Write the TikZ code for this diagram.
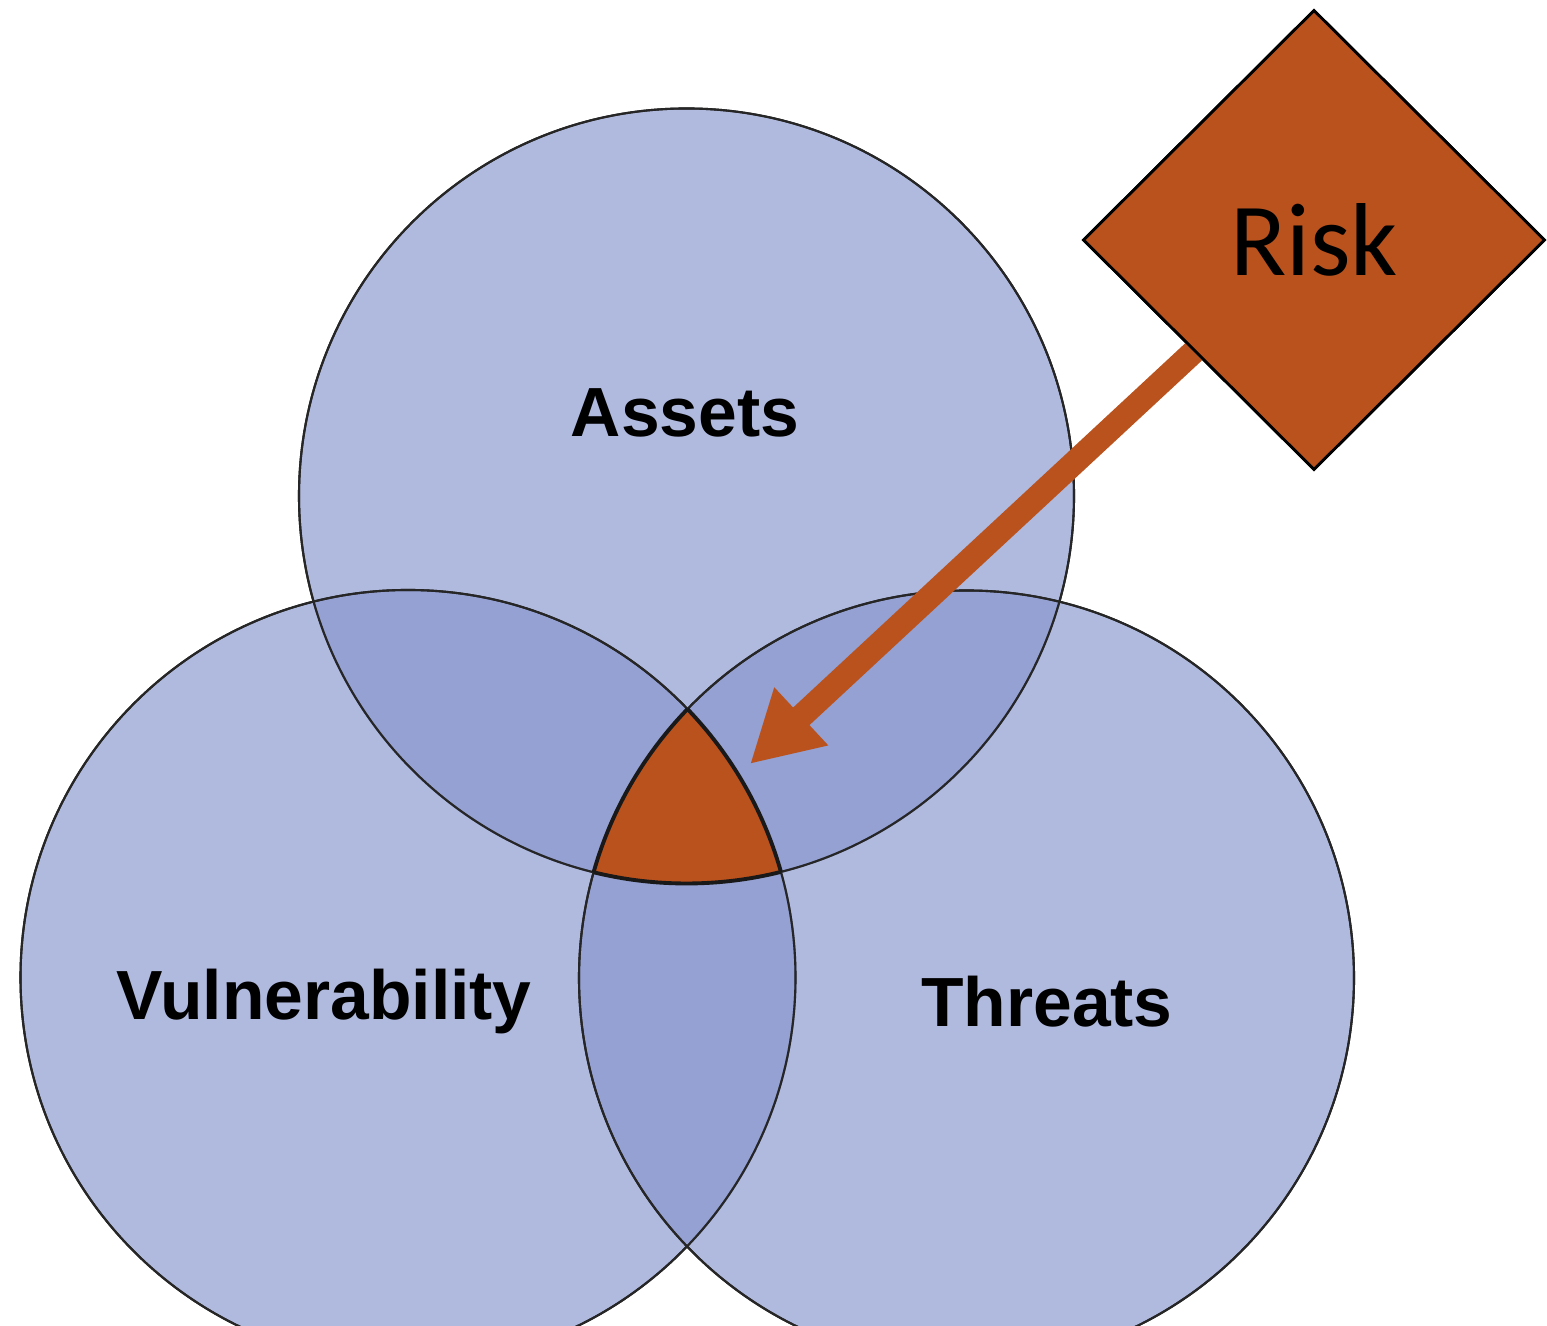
\documentclass[tikz,border=0pt]{standalone}
\usepackage{fontspec}
\setmainfont{Liberation Sans}
\newfontfamily\riskfont{Carlito}
\usetikzlibrary{shapes.geometric,arrows.meta}
\definecolor{vennblue}{RGB}{133,148,204}
\definecolor{riskorange}{RGB}{186,82,30}

\begin{document}
\begin{tikzpicture}[
        ring/.style={draw=black!85, line width=0.6pt},
        vlabel/.style={font=\fontsize{19.8}{24}\selectfont\bfseries},
        riskbox/.style={diamond, draw=black, line width=0.8pt, fill=riskorange,
            minimum width=4.62cm, minimum height=4.60cm, inner sep=0pt,
            font=\riskfont\fontsize{29.5}{34}\selectfont}
    ]
        \useasboundingbox (0,0) rectangle (15.47,13.26);
        \clip (0,0) rectangle (15.47,13.26);
        % circle centres
        \coordinate (A) at (6.865,8.30);
        \coordinate (V) at (4.08,3.485);
        \coordinate (T) at (9.665,3.48);
        \foreach \c in {A,V,T} {
            \filldraw[ring, fill=vennblue, fill opacity=0.65] (\c) circle (3.875);
        }
        % common part
        \begin{scope}
            \clip (A) circle (3.875);
            \clip (V) circle (3.875);
            \fill[riskorange] (T) circle (3.875);
        \end{scope}
        \foreach \c in {A,V,T} {
            \draw[ring] (\c) circle (3.875);
        }
        % darker rim of the common part
        \foreach \p/\q/\r in {A/V/T,A/T/V,V/T/A} {
            \begin{scope}
                \clip (\p) circle (3.875);
                \clip (\q) circle (3.875);
                \draw[black!90, line width=1.1pt] (\r) circle (3.875);
            \end{scope}
        }
        \node[vlabel] (assets) at (6.85,9.13) {Assets};
        \node[vlabel] (vuln) at (3.24,3.24) {Vulnerability};
        \node[vlabel] (threats) at (10.47,3.24) {Threats};
        \coordinate (core) at (7.50,5.62);
        \node[riskbox] (risk) at (13.14,10.86) {Risk};
        \draw[riskorange, line width=0.24cm, -{Triangle[length=0.70cm, width=0.74cm]}] (risk) -- (core);
        \node[riskbox] at (risk.center) {Risk};
    \end{tikzpicture}
\end{document}
